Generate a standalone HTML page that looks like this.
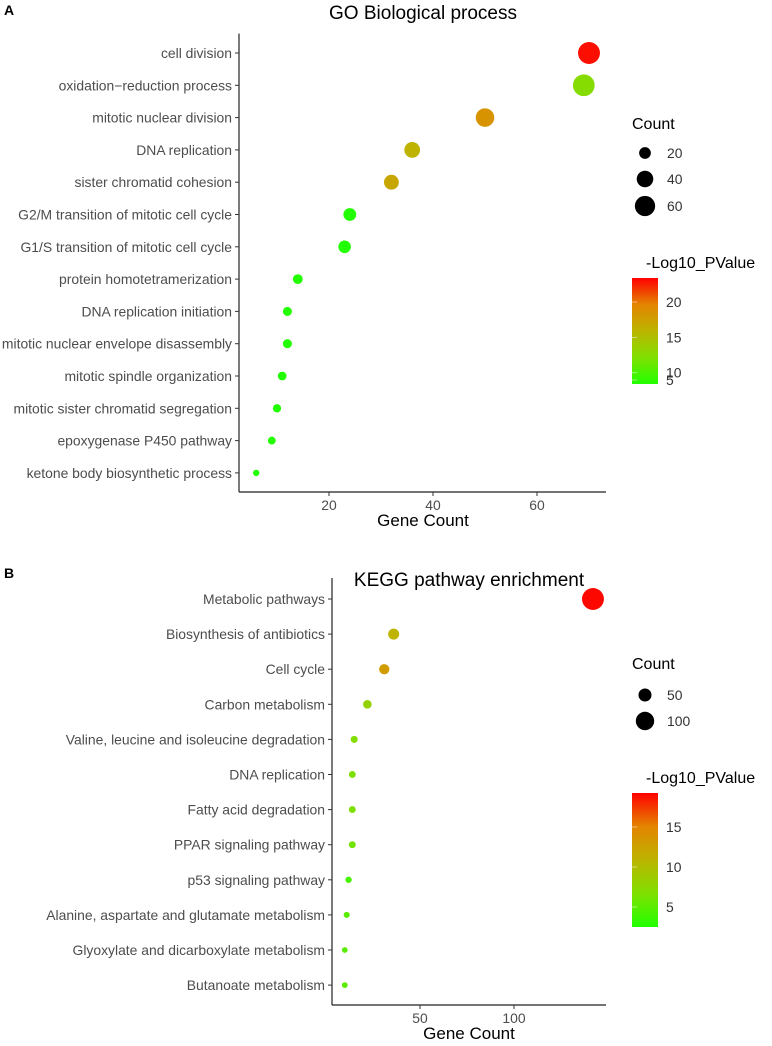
<!DOCTYPE html>
<html><head><meta charset="utf-8"><style>
html,body{margin:0;padding:0;background:#fff;}
svg{display:block;font-family:"Liberation Sans",Arial,sans-serif;}
</style></head><body>
<svg id="chart" width="772" height="1046" viewBox="0 0 772 1046">
<defs>
<linearGradient id="grad" x1="0" y1="1" x2="0" y2="0">
<stop offset="0" stop-color="#22ff00"/><stop offset="0.25" stop-color="#80e000"/><stop offset="0.5" stop-color="#bcb400"/><stop offset="0.75" stop-color="#e48400"/><stop offset="1" stop-color="#ff0000"/>
</linearGradient>
</defs>
</svg>
<script>
const goTerms=["cell division","oxidation\u2212reduction process","mitotic nuclear division","DNA replication","sister chromatid cohesion","G2/M transition of mitotic cell cycle","G1/S transition of mitotic cell cycle","protein homotetramerization","DNA replication initiation","mitotic nuclear envelope disassembly","mitotic spindle organization","mitotic sister chromatid segregation","epoxygenase P450 pathway","ketone body biosynthetic process"];
const goCounts=[70,69,50,36,32,24,23,14,12,12,11,10,9,6];
const goLogP=[23,12.5,18.5,16,17,7,7.5,6,6,6,5.5,5,6,5];
const goXTicks=[20,40,60];
const goSizeLegend=[20,40,60];
const goColorTicks=[20,15,10,5];

const keggTerms=["Metabolic pathways","Biosynthesis of antibiotics","Cell cycle","Carbon metabolism","Valine, leucine and isoleucine degradation","DNA replication","Fatty acid degradation","PPAR signaling pathway","p53 signaling pathway","Alanine, aspartate and glutamate metabolism","Glyoxylate and dicarboxylate metabolism","Butanoate metabolism"];
const keggCounts=[142,36,31,22,15,14,14,14,12,11,10,10];
const keggLogP=[19,11,13,8,7,6.5,6.5,6,4,5,5,5];
const keggXTicks=[50,100];
const keggSizeLegend=[50,100];
const keggColorTicks=[15,10,5];

const svg=document.getElementById('chart');
const NS='http://www.w3.org/2000/svg';
function mk(tag,attrs,text){const e=document.createElementNS(NS,tag);for(const k in attrs)e.setAttribute(k,attrs[k]);if(text!==undefined)e.textContent=text;svg.appendChild(e);return e;}
function lerp(a,b,t){return Math.round(a+(b-a)*t);}
const stops=[[0,[34,255,0]],[0.25,[128,224,0]],[0.5,[188,180,0]],[0.75,[228,132,0]],[1,[255,0,0]]];
function colorAt(t){t=Math.max(0,Math.min(1,t));for(let i=1;i<stops.length;i++){if(t<=stops[i][0]){const a=stops[i-1],b=stops[i];const u=(t-a[0])/(b[0]-a[0]);return `rgb(${lerp(a[1][0],b[1][0],u)},${lerp(a[1][1],b[1][1],u)},${lerp(a[1][2],b[1][2],u)})`;}}return 'rgb(255,0,0)';}

function panel(o){
  const x=v=>o.x0+v*o.xs;
  const y=i=>o.yTop+i*o.yStep;
  const cmin=o.cMin,cmax=o.cMax;
  const cy=v=>o.barBottom-(v-cmin)/(cmax-cmin)*(o.barBottom-o.barTop);
  let e=mk('text',{x:4,y:o.letterY,'font-size':14,'font-weight':'bold',fill:'#000'},o.letter);
  
  e=mk('text',{x:o.titleX,y:o.titleY,'font-size':19,'text-anchor':'middle',fill:'#000'},o.title);
  
  e=mk('line',{x1:o.axL,y1:o.yTop-o.yStep*0.6,x2:o.axL,y2:o.axB,stroke:'#222','stroke-width':1.2});
  
  e=mk('line',{x1:o.axL,y1:o.axB,x2:606,y2:o.axB,stroke:'#222','stroke-width':1.2});
  
  o.terms.forEach((t,i)=>{
    e=mk('line',{x1:o.axL-4,y1:y(i),x2:o.axL,y2:y(i),stroke:'#333','stroke-width':1});
    
    e=mk('text',{x:o.axL-7,y:y(i)+5,'font-size':13.9,'text-anchor':'end',fill:'#4d4d4d'},t);
    
    e=mk('circle',{cx:x(o.counts[i]),cy:y(i),r:o.k*Math.sqrt(o.counts[i]),fill:colorAt((o.logp[i]-cmin)/(cmax-cmin))});
    
  });
  o.xticks.forEach(v=>{
    e=mk('line',{x1:x(v),y1:o.axB,x2:x(v),y2:o.axB+4,stroke:'#333','stroke-width':1});
    
    e=mk('text',{x:x(v),y:o.axB+18,'font-size':13.9,'text-anchor':'middle',fill:'#4d4d4d'},String(v));
    
  });
  e=mk('text',{x:o.xTitleX,y:o.axB+34,'font-size':17,'text-anchor':'middle',fill:'#000'},'Gene Count');
  
  e=mk('text',{x:632,y:o.countY,'font-size':16,fill:'#000'},'Count');
  
  o.sizeLeg.forEach((v,i)=>{
    const yy=o.legY[i];
    e=mk('circle',{cx:645,cy:yy,r:o.k*Math.sqrt(v),fill:'#000'});
    
    e=mk('text',{x:667,y:yy+5,'font-size':13.9,fill:'#333'},String(v));
    
  });
  e=mk('text',{x:646,y:o.barTop-10,'font-size':16,fill:'#000'},'-Log10_PValue');
  
  e=mk('rect',{x:632,y:o.barTop,width:26,height:o.barBottom-o.barTop,fill:'url(#grad)'});
  
  o.cticks.forEach(v=>{
    const yy=Math.min(cy(v),o.barBottom-4);
    e=mk('line',{x1:632,y1:yy,x2:637,y2:yy,stroke:'#fff','stroke-width':0.8,opacity:0.6});
    
    e=mk('text',{x:666,y:yy+5,'font-size':13.9,fill:'#333'},String(v));
    
  });
}
panel({id:'go',letter:'A',letterY:15,title:'GO Biological process',titleX:423,titleY:19,
  terms:goTerms,counts:goCounts,logp:goLogP,xticks:goXTicks,sizeLeg:goSizeLegend,cticks:goColorTicks,
  x0:225,xs:5.2,yTop:53,yStep:32.3,axL:239,axB:492,xTitleX:423,k:1.31,
  countY:129,legY:[153,179,206],barTop:278,barBottom:384,cMin:8.4,cMax:23.4});
panel({id:'kegg',letter:'B',letterY:578,title:'KEGG pathway enrichment',titleX:469,titleY:586,
  terms:keggTerms,counts:keggCounts,logp:keggLogP,xticks:keggXTicks,sizeLeg:keggSizeLegend,cticks:keggColorTicks,
  x0:326,xs:1.88,yTop:599,yStep:35.1,axL:332,axB:1005,xTitleX:469,k:0.92,
  countY:669,legY:[695,721],barTop:793,barBottom:927,cMin:2.5,cMax:19.25});
</script>
</body></html>
